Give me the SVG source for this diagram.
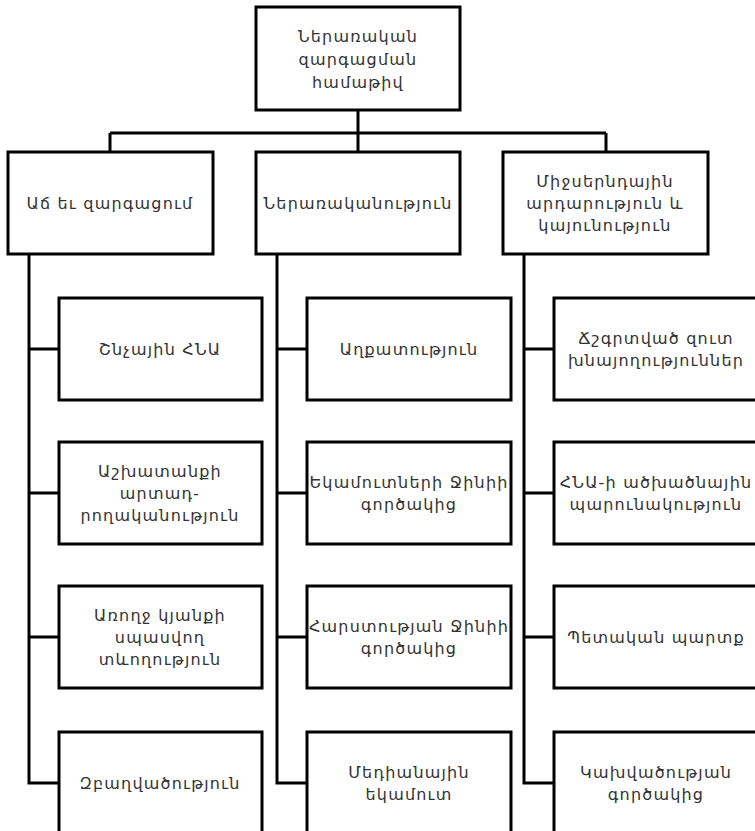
<svg xmlns="http://www.w3.org/2000/svg" width="755" height="831" viewBox="0 0 755 831">
<style>
.box{fill:#fff;stroke:#000;stroke-width:3}
.ln{fill:none;stroke:#000;stroke-width:3}
text{font-family:"DejaVu Sans","Noto Sans",sans-serif;font-size:16px;letter-spacing:1.2px;fill:#333;text-anchor:middle;dominant-baseline:central}
</style>
<rect width="755" height="831" fill="#fff"/>
<g id="connectors">
<path class="ln" d="M358 110V133M110 133H606M110 133V152M358 133V152M606 133V152"/>
<path class="ln" d="M29 254V783H59M29 349H59M29 493H59M29 637H59"/>
<path class="ln" d="M277 254V783H307M277 349H307M277 493H307M277 637H307"/>
<path class="ln" d="M524 254V783H554M524 349H554M524 493H554M524 637H554"/>
</g>
<g id="root"><rect class="box" x="256" y="7" width="204" height="103"/>
<text x="358" y="36">Ներառական</text><text x="358" y="59">զարգացման</text><text x="358" y="82">համաթիվ</text></g>
<g id="h1"><rect class="box" x="8" y="152" width="205" height="102"/><text x="110" y="203">Աճ եւ զարգացում</text></g>
<g id="h2"><rect class="box" x="256" y="152" width="204" height="102"/><text x="358" y="203">Ներառականություն</text></g>
<g id="h3"><rect class="box" x="503" y="152" width="205" height="102"/>
<text x="605" y="181">Միջսերնդային</text><text x="605" y="203">արդարություն և</text><text x="605" y="225">կայունություն</text></g>
<g id="a1"><rect class="box" x="59" y="298" width="203" height="102"/><text x="160" y="349">Շնչային ՀՆԱ</text></g>
<g id="a2"><rect class="box" x="59" y="442" width="203" height="102"/>
<text x="160" y="471">Աշխատանքի</text><text x="160" y="493">արտադ-</text><text x="160" y="515">րողականություն</text></g>
<g id="a3"><rect class="box" x="59" y="586" width="203" height="102"/>
<text x="160" y="615">Առողջ կյանքի</text><text x="160" y="637">սպասվող</text><text x="160" y="659">տևողություն</text></g>
<g id="a4"><rect class="box" x="59" y="732" width="203" height="102"/><text x="160" y="783">Զբաղվածություն</text></g>
<g id="b1"><rect class="box" x="307" y="298" width="204" height="102"/><text x="409" y="349">Աղքատություն</text></g>
<g id="b2"><rect class="box" x="307" y="442" width="204" height="102"/>
<text x="409" y="482">Եկամուտների Ջինիի</text><text x="409" y="504">գործակից</text></g>
<g id="b3"><rect class="box" x="307" y="586" width="204" height="102"/>
<text x="409" y="626">Հարստության Ջինիի</text><text x="409" y="648">գործակից</text></g>
<g id="b4"><rect class="box" x="307" y="732" width="204" height="102"/>
<text x="409" y="772">Մեդիանային</text><text x="409" y="794">եկամուտ</text></g>
<g id="c1"><rect class="box" x="554" y="298" width="204" height="102"/>
<text x="656" y="338">Ճշգրտված զուտ</text><text x="656" y="360">խնայողություններ</text></g>
<g id="c2"><rect class="box" x="554" y="442" width="204" height="102"/>
<text x="656" y="482">ՀՆԱ-ի ածխածնային</text><text x="656" y="504">պարունակություն</text></g>
<g id="c3"><rect class="box" x="554" y="586" width="204" height="102"/><text x="656" y="637">Պետական պարտք</text></g>
<g id="c4"><rect class="box" x="554" y="732" width="204" height="102"/>
<text x="656" y="772">Կախվածության</text><text x="656" y="794">գործակից</text></g>
</svg>
